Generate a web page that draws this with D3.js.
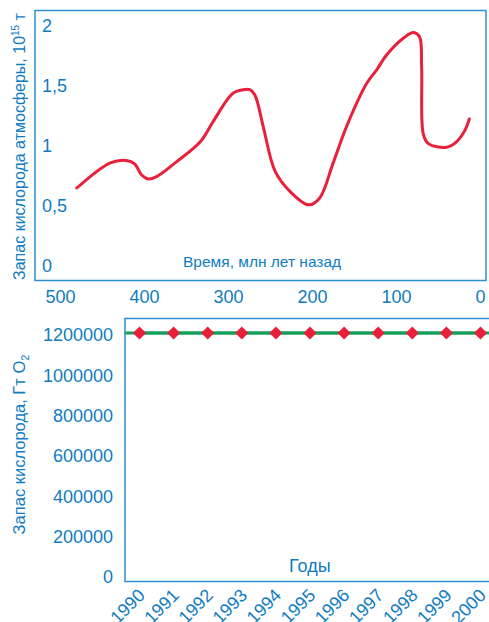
<!DOCTYPE html>
<html><head><meta charset="utf-8">
<script src="https://cdn.jsdelivr.net/npm/d3@7"></script>
<style>
html,body{margin:0;padding:0;background:#fff;overflow:hidden}
svg{display:block;font-family:"Liberation Sans",Arial,Helvetica,sans-serif}
</style></head><body>
<svg id="c" width="489" height="622"></svg>
<script>
// Top chart: oxygen stock of atmosphere over time (million years ago)
const ageMa = [480,440,421,411,403,395,385,361,333,318,294,280,274,268,258,244,226,204,191,175,159,135,123,111,91,79,72,69.5,67.5,61.5,40,28,18,12.7];
const oxygenStock = [0.65,0.86,0.88,0.85,0.76,0.725,0.745,0.87,1.035,1.2,1.44,1.47,1.47,1.425,1.16,0.79,0.62,0.51,0.565,0.855,1.16,1.52,1.635,1.76,1.9,1.945,1.91,1.66,1.1,1.02,0.99,1.035,1.13,1.225];
const topXTicks = [500,400,300,200,100,0];
const topYTicks = [0,0.5,1,1.5,2];
// Bottom chart: oxygen stock by year, Gt O2
const years = ["1990","1991","1992","1993","1994","1995","1996","1997","1998","1999","2000"];
const stockGt = [1210000,1210000,1210000,1210000,1210000,1210000,1210000,1210000,1210000,1210000,1210000];
const botYTicks = [0,200000,400000,600000,800000,1000000,1200000];

const BLUE = "#0f7cc1", BOX = "#2b8fd1", RED = "#e8203a", GREEN = "#14a05a";
const svg = d3.select("#c");

// ---------- top chart ----------
const t = {l:35, r:486, t:10.5, b:280.5};
const x1 = d3.scaleLinear().domain([500,0]).range([60,480]);
const y1 = d3.scaleLinear().domain([0,2]).range([266,26]);
svg.append("rect").attr("x",t.l).attr("y",t.t).attr("width",t.r-t.l).attr("height",t.b-t.t)
  .attr("fill","none").attr("stroke",BOX).attr("stroke-width",1.5);
const gx1 = svg.append("g").attr("transform",`translate(0,${t.b})`)
  .call(d3.axisBottom(x1).tickValues(topXTicks).tickSize(0).tickPadding(10).tickFormat(d3.format("d")));
gx1.select(".domain").remove();
gx1.selectAll("text").attr("fill",BLUE).style("font-size","18px");
const gy1 = svg.append("g").attr("transform",`translate(${t.l},0)`)
  .call(d3.axisRight(y1).tickValues(topYTicks).tickSize(0).tickPadding(7).tickFormat(d=>String(d).replace(".",",")));
gy1.select(".domain").remove();
gy1.selectAll("text").attr("fill",BLUE).style("font-size","18px");
const line1 = d3.line().x((d,i)=>x1(ageMa[i])).y(d=>y1(d)).curve(d3.curveCatmullRom.alpha(0.5));
svg.append("path").attr("d",line1(oxygenStock)).attr("fill","none").attr("stroke",RED)
  .attr("stroke-width",3).attr("stroke-linecap","round").attr("stroke-linejoin","round");
svg.append("text").attr("x",183).attr("y",267).attr("fill",BLUE).style("font-size","15.5px").text("Время, млн лет назад");
const tt = svg.append("text").attr("transform","translate(25,146.5) rotate(-90)").attr("text-anchor","middle")
  .attr("fill",BLUE).style("font-size","16px");
tt.append("tspan").text("Запас кислорода атмосферы, 10");
tt.append("tspan").attr("dy",-6).style("font-size","10px").text("15");
tt.append("tspan").attr("dy",6).text(" т");

// ---------- bottom chart ----------
const b = {l:125, r:495, t:318.5, b:581.5};
const x2 = d3.scalePoint().domain(years).range([139.5,480.5]);
const y2 = d3.scaleLinear().domain([0,1200000]).range([577,335]);
svg.append("rect").attr("x",b.l).attr("y",b.t).attr("width",b.r-b.l).attr("height",b.b-b.t)
  .attr("fill","none").attr("stroke",BOX).attr("stroke-width",1.5);
const gy2 = svg.append("g").attr("transform",`translate(${b.l},0)`)
  .call(d3.axisLeft(y2).tickValues(botYTicks).tickSize(0).tickPadding(12).tickFormat(d3.format("d")));
gy2.select(".domain").remove();
gy2.selectAll("text").attr("fill",BLUE).style("font-size","18px");
const gx2 = svg.append("g").attr("transform",`translate(0,${b.b})`)
  .call(d3.axisBottom(x2).tickSize(0).tickPadding(0));
gx2.select(".domain").remove();
gx2.selectAll("text").attr("fill",BLUE).style("font-size","18px")
  .attr("text-anchor","end").attr("dy",0).attr("y",0)
  .attr("transform","translate(6,15) rotate(-45)");
const line2 = d3.line().x((d,i)=>x2(years[i])).y(d=>y2(d));
svg.append("line").attr("x1",b.l).attr("x2",b.r).attr("y1",y2(stockGt[0])).attr("y2",y2(stockGt[stockGt.length-1]))
  .attr("stroke",GREEN).attr("stroke-width",3);
svg.append("path").attr("d",line2(stockGt)).attr("fill","none").attr("stroke",GREEN).attr("stroke-width",3);
svg.selectAll(".mk").data(stockGt).enter().append("path").attr("class","mk")
  .attr("d",d3.symbol(d3.symbolDiamond2,110)())
  .attr("transform",(d,i)=>`translate(${x2(years[i])},${y2(d)})`).attr("fill",RED);
svg.append("text").attr("x",289).attr("y",572).attr("fill",BLUE).style("font-size","18px").text("Годы");
const bt = svg.append("text").attr("transform","translate(25,444.5) rotate(-90)").attr("text-anchor","middle")
  .attr("fill",BLUE).style("font-size","16.5px");
bt.append("tspan").text("Запас кислорода, Гт O");
bt.append("tspan").attr("dy",4).style("font-size","11px").text("2");
</script></body></html>
